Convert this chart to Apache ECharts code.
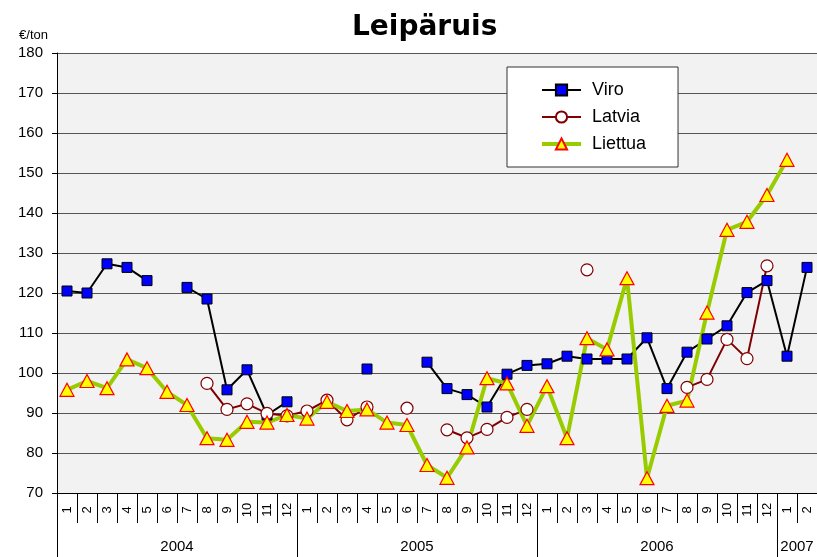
<!DOCTYPE html>
<html>
<head>
<meta charset="utf-8">
<script src="https://cdn.jsdelivr.net/npm/echarts@6/dist/echarts.min.js"></script>
<style>
html,body{margin:0;padding:0;background:#fff;}
#chart{width:817px;height:557px;}
</style>
</head>
<body>
<div id="chart"></div>
<script>
// ---- data ----
var years = ['2004', '2005', '2006', '2007'];
var yearMonths = [12, 12, 12, 2];
var monthLabels = ['1','2','3','4','5','6','7','8','9','10','11','12',
                   '1','2','3','4','5','6','7','8','9','10','11','12',
                   '1','2','3','4','5','6','7','8','9','10','11','12',
                   '1','2'];
var viro = [120.5, 120, 127.3, 126.4, 123.1, null, 121.4, 118.5, 95.8, 100.8, 89.5, 92.8,
            null, null, null, 101, null, null, 102.7, 96.1, 94.6, 91.5, 99.7, 101.9,
            102.3, 104.2, 103.5, 103.5, 103.5, 108.8, 96.1, 105.2, 108.5, 111.8, 120.1, 123.1,
            104.2, 126.4];
var latvia = [null, null, null, null, null, null, null, 97.4, 90.9, 92.3, 89.9, 89.3,
              90.5, 93.2, 88.3, 91.5, null, 91.2, null, 85.8, 83.8, 85.9, 88.9, 90.9,
              null, null, 125.8, null, null, null, null, 96.4, 98.4, 108.4, 103.6, 126.8,
              null, null];
var liettua = [95.8, 98, 96.2, 103.4, 101.2, 95.3, 92, 83.7, 83.3, 87.8, 87.6, 89.5,
               88.6, 92.8, 90.5, 90.9, 87.6, 87, 77, 73.8, 81.4, 98.7, 97.4, 86.8,
               96.7, 83.7, 108.7, 105.9, 123.7, 73.7, 91.8, 93.1, 115.1, 135.8, 137.8, 144.5,
               153.3, null];

// year-row labels/ticks built from years & yearMonths
var yearStarts = [];
var yearLabelArr = monthLabels.map(function(){ return ''; });
(function(){
  var s = 0;
  for (var i = 0; i < years.length; i++) {
    yearStarts.push(s);
    var labIdx = s + Math.ceil(yearMonths[i] / 2) - 1;
    yearLabelArr[labIdx] = years[i];
    s += yearMonths[i];
  }
})();

var FONT = 'Liberation Sans, Arial, sans-serif';
var chart = echarts.init(document.getElementById('chart'), null, {renderer: 'canvas'});
chart.setOption({
  animation: false,
  backgroundColor: '#ffffff',
  textStyle: {fontFamily: FONT, color: '#000'},
  title: {
    text: 'Leipäruis',
    left: 352, top: 14, padding: 0,
    textStyle: {fontFamily: 'DejaVu Sans', fontWeight: 'bold', fontSize: 28, color: '#000'}
  },
  legend: {
    orient: 'vertical',
    left: 507, top: 67,
    padding: [13, 32, 13, 33],
    itemWidth: 39, itemHeight: 14, itemGap: 7,
    backgroundColor: '#ffffff',
    borderColor: '#333', borderWidth: 1,
    textStyle: {fontFamily: FONT, fontSize: 18, color: '#000', lineHeight: 20, padding: [0, 0, 0, 6]},
    data: [
      {name: 'Viro', lineStyle: {width: 2}},
      {name: 'Latvia', lineStyle: {width: 2}},
      {name: 'Liettua', lineStyle: {width: 4}}
    ]
  },
  grid: {
    left: 57, right: 0, top: 53, bottom: 64,
    show: true, backgroundColor: '#f2f2f2', borderWidth: 0
  },
  xAxis: [{
    type: 'category',
    data: monthLabels,
    position: 'bottom',
    axisLine: {show: true, lineStyle: {color: '#000', width: 1}},
    axisTick: {show: true, length: 30, interval: 0, lineStyle: {color: '#000'}},
    axisLabel: {interval: 0, rotate: 90, align: 'center', verticalAlign: 'middle', margin: 17,
                fontSize: 13, color: '#000', fontFamily: FONT},
    splitLine: {show: false}
  }, {
    type: 'category',
    data: yearLabelArr,
    position: 'bottom',
    axisLine: {show: false},
    axisTick: {show: true, length: 64, lineStyle: {color: '#000'},
               interval: function(idx){ return yearStarts.indexOf(idx) >= 0; }},
    axisLabel: {interval: 0, margin: 54, verticalAlign: 'middle', padding: [0, 0, 0, 20],
                fontSize: 15, color: '#000', fontFamily: FONT},
    splitLine: {show: false}
  }],
  yAxis: {
    type: 'value',
    min: 70, max: 180, interval: 10,
    name: '€/ton',
    nameLocation: 'end',
    nameGap: 11,
    nameTextStyle: {fontSize: 13, color: '#000', align: 'right', padding: [0, 9, 0, 0], fontFamily: FONT},
    axisLine: {show: true, lineStyle: {color: '#000', width: 1}},
    axisTick: {show: true, length: 5, lineStyle: {color: '#000'}},
    axisLabel: {fontSize: 15, color: '#000', margin: 14, fontFamily: FONT},
    splitLine: {show: true, lineStyle: {color: '#555', width: 1}}
  },
  series: [{
    name: 'Viro', type: 'line', data: viro, connectNulls: false,
    symbol: 'rect', symbolSize: 10,
    lineStyle: {color: '#000', width: 2},
    itemStyle: {color: '#0000ff', borderColor: '#000', borderWidth: 1}
  }, {
    name: 'Latvia', type: 'line', data: latvia, connectNulls: false,
    symbol: 'circle', symbolSize: 12,
    lineStyle: {color: '#800000', width: 2},
    itemStyle: {color: '#ffffff', borderColor: '#800000', borderWidth: 1.2}
  }, {
    name: 'Liettua', type: 'line', data: liettua, connectNulls: false,
    symbol: 'triangle', symbolSize: [14, 13],
    lineStyle: {color: '#99cc00', width: 4},
    itemStyle: {color: '#ffff00', borderColor: '#ff0000', borderWidth: 1.2}
  }]
});
</script>
</body>
</html>
